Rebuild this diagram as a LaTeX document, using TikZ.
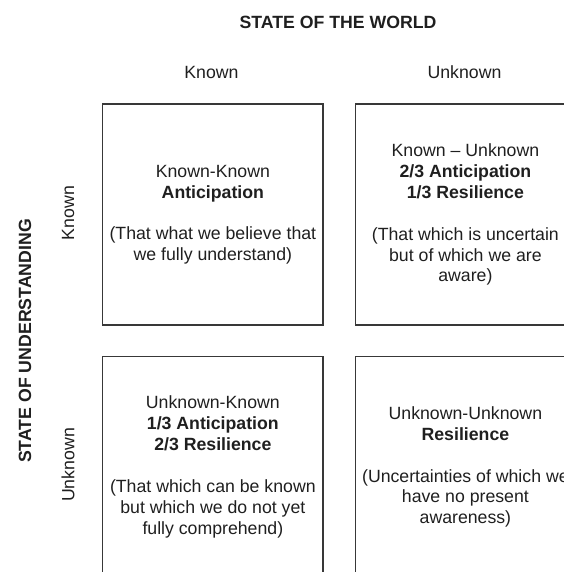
\documentclass[tikz,border=0pt]{standalone}
\usepackage{fontspec}
\setmainfont{Liberation Sans}
\begin{document}
\begin{tikzpicture}[x=1bp,y=-1bp,
  every node/.style={font=\fontsize{17.7bp}{20.9bp}\selectfont, text=black!88, inner sep=0pt},
  cell/.style={draw=black!78, line width=1.4bp, minimum width=220.3bp, minimum height=221bp, align=center},
  head/.style={},
  title/.style={font=\fontsize{17.7bp}{20.9bp}\selectfont\bfseries}]
\useasboundingbox (0,0) rectangle (564,572);
\clip (0,0) rectangle (564,572);
\node[title] (tw) at (338,22) {STATE OF THE WORLD};
\node[head] (hk) at (211.5,72) {Known};
\node[head] (hu) at (464.5,72) {Unknown};
\node[title, rotate=90] (tu) at (25,341) {STATE OF UNDERSTANDING};
\node[head, rotate=90] (vk) at (68,213) {Known};
\node[head, rotate=90] (vu) at (68,465) {Unknown};
\node[cell] (kk) at (212.85,214.65) {Known-Known\\ \textbf{Anticipation}\\[20.9bp] (That what we believe that\\ we fully understand)};
\node[cell] (ku) at (465.4,214.65) {Known -- Unknown\\ \textbf{2/3 Anticipation}\\ \textbf{1/3 Resilience}\\[20.9bp] (That which is uncertain\\ but of which we are\\ aware)};
\node[cell] (uk) at (212.85,467) {Unknown-Known\\ \textbf{1/3 Anticipation}\\ \textbf{2/3 Resilience}\\[20.9bp] (That which can be known\\ but which we do not yet\\ fully comprehend)};
\node[cell] (uu) at (465.4,467) {Unknown-Unknown\\ \textbf{Resilience}\\[20.9bp] (Uncertainties of which we\\ have no present\\ awareness)};
\end{tikzpicture}
\end{document}
